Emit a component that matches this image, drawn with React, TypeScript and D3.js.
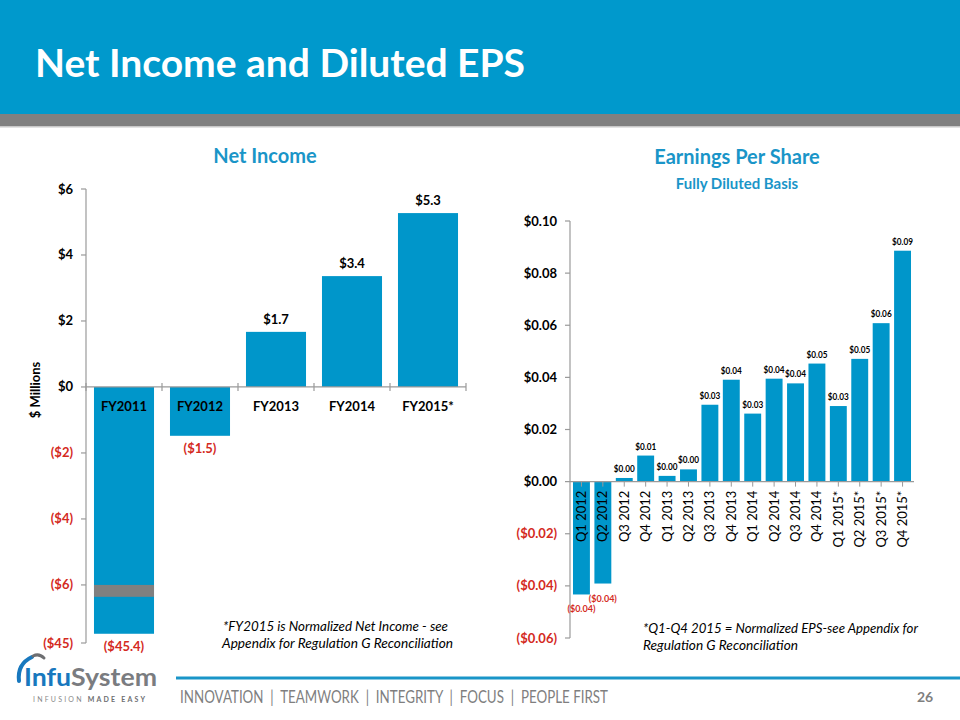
import React from "react";
import * as d3 from "d3";

// ---------- Data ----------
const niCategories = ["FY2011", "FY2012", "FY2013", "FY2014", "FY2015*"];
const niValues = [-45.4, -1.48, 1.67, 3.36, 5.27];
const niLabels = ["($45.4)", "($1.5)", "$1.7", "$3.4", "$5.3"];
const niAxisTicks = [6, 4, 2, 0, -2, -4, -6, -7.76];
const niAxisTickLabels = ["$6", "$4", "$2", "$0", "($2)", "($4)", "($6)", "($45)"];

const epsCategories = [
  "Q1 2012", "Q2 2012", "Q3 2012", "Q4 2012",
  "Q1 2013", "Q2 2013", "Q3 2013", "Q4 2013",
  "Q1 2014", "Q2 2014", "Q3 2014", "Q4 2014",
  "Q1 2015*", "Q2 2015*", "Q3 2015*", "Q4 2015*",
];
const epsValues = [
  -0.0433, -0.0391, 0.0014, 0.01,
  0.0022, 0.0047, 0.0295, 0.0391,
  0.0261, 0.0395, 0.0377, 0.0453,
  0.029, 0.0471, 0.0608, 0.0886,
];
const epsLabels = [
  "($0.04)", "($0.04)", "$0.00", "$0.01",
  "$0.00", "$0.00", "$0.03", "$0.04",
  "$0.03", "$0.04", "$0.04", "$0.05",
  "$0.03", "$0.05", "$0.06", "$0.09",
];
const epsTicks = [0.1, 0.08, 0.06, 0.04, 0.02, 0, -0.02, -0.04, -0.06];

const footerText = "INNOVATION  |  TEAMWORK  |  INTEGRITY  |  FOCUS  |  PEOPLE FIRST";

// ---------- Styles ----------
const BLUE = "#0096CA";
const HEADER_BLUE = "#0099CC";
const TITLE_BLUE = "#1A95C8";
const RED = "#D42A1E";
const AXIS = "#9A9A9A";
const FONT = "Lato, 'Open Sans', sans-serif";

// Axis-break mapping: values below -6 are compressed
const BREAK = -6;
const BREAK_K = 1.48 / 39.4;
const niDisplay = (v: number) => (v >= BREAK ? v : BREAK + (v - BREAK) * BREAK_K);

export default function App() {
  // Left chart scales
  const xL = d3.scaleBand<string>().domain(niCategories).range([86, 466]).paddingInner(0.21).paddingOuter(0.105);
  const yL = d3.scaleLinear().domain([-7.76, 6]).range([643, 189]);
  const y0L = yL(0);

  // Right chart scales
  const xR = d3.scaleBand<string>().domain(epsCategories).range([570, 914]).paddingInner(0.21).paddingOuter(0.14);
  const yR = d3.scaleLinear().domain([-0.06, 0.1]).range([638, 221]);
  const y0R = yR(0);

  const leftBoundaries = niCategories.map((_, i) => 86 + i * xL.step()).concat([466]);

  return (
    <svg width={960} height={720} style={{ position: "absolute", left: 0, top: 0 }} fontFamily={FONT}>
      <rect x={0} y={0} width={960} height={720} fill="#fff" />
      {/* Header */}
      <rect x={0} y={0} width={960} height={114} fill={HEADER_BLUE} />
      <rect x={0} y={114} width={960} height={12} fill="#808080" />
      <rect x={0} y={126} width={960} height={1.5} fill="#C8C8C8" />
      <text x={35} y={77} fill="#fff" fontSize={39} fontWeight="bold" textLength={490} lengthAdjust="spacingAndGlyphs">
        Net Income and Diluted EPS
      </text>

      {/* ---------- Left chart ---------- */}
      <text x={265} y={163} textAnchor="middle" fill={TITLE_BLUE} fontSize={20} fontWeight="bold">Net Income</text>
      <text transform={`translate(40,390) rotate(-90)`} textAnchor="middle" fontSize={13} fontWeight="bold" fill="#000">$ Millions</text>

      {niValues.map((v, i) => {
        const x = xL(niCategories[i])!;
        const yv = yL(niDisplay(v));
        return (
          <rect key={i} x={x} y={Math.min(yv, y0L)} width={xL.bandwidth()} height={Math.abs(yv - y0L)} fill={BLUE} />
        );
      })}
      {/* break marker */}
      <rect x={xL(niCategories[0])!} y={yL(BREAK)} width={xL.bandwidth()} height={yL(-6.36) - yL(BREAK)} fill="#808080" />

      <line x1={86} x2={86} y1={yL(6)} y2={yL(-7.76)} stroke={AXIS} strokeWidth={1.2} />
      {niAxisTicks.map((t, i) => (
        <g key={i}>
          <line x1={81} x2={86} y1={yL(t)} y2={yL(t)} stroke={AXIS} strokeWidth={1.2} />
          <text x={73} y={yL(t) + 4.5} textAnchor="end" fontSize={13} fontWeight="bold" fill={t < 0 ? RED : "#000"}>
            {niAxisTickLabels[i]}
          </text>
        </g>
      ))}
      <line x1={86} x2={466} y1={y0L} y2={y0L} stroke={AXIS} strokeWidth={1.2} />
      {leftBoundaries.map((bx, i) => (
        <line key={i} x1={bx} x2={bx} y1={y0L - 4} y2={y0L + 4} stroke={AXIS} strokeWidth={1.2} />
      ))}
      {niCategories.map((c) => (
        <text key={c} x={xL(c)! + xL.bandwidth() / 2} y={y0L + 24} textAnchor="middle" fontSize={13} fontWeight="bold" fill="#000">
          {c}
        </text>
      ))}
      {niValues.map((v, i) => {
        const cx = xL(niCategories[i])! + xL.bandwidth() / 2;
        const yv = yL(niDisplay(v));
        return (
          <text key={i} x={cx} y={v >= 0 ? yv - 8 : yv + 17} textAnchor="middle" fontSize={13} fontWeight="bold" fill={v < 0 ? RED : "#000"}>
            {niLabels[i]}
          </text>
        );
      })}
      <text x={223} y={631} fontSize={13} fontStyle="italic" fill="#000" textLength={225} lengthAdjust="spacingAndGlyphs">*FY2015 is Normalized Net Income - see</text>
      <text x={222} y={648} fontSize={13} fontStyle="italic" fill="#000" textLength={231} lengthAdjust="spacingAndGlyphs">Appendix for Regulation G Reconciliation</text>

      {/* ---------- Right chart ---------- */}
      <text x={737} y={164} textAnchor="middle" fill={TITLE_BLUE} fontSize={20} fontWeight="bold">Earnings Per Share</text>
      <text x={737} y={189} textAnchor="middle" fill={TITLE_BLUE} fontSize={15} fontWeight="bold">Fully Diluted Basis</text>

      {epsValues.map((v, i) => {
        const x = xR(epsCategories[i])!;
        const yv = yR(v);
        return <rect key={i} x={x} y={Math.min(yv, y0R)} width={xR.bandwidth()} height={Math.abs(yv - y0R)} fill={BLUE} />;
      })}

      <line x1={570} x2={570} y1={yR(0.1)} y2={yR(-0.06)} stroke={AXIS} strokeWidth={1.2} />
      {epsTicks.map((t, i) => (
        <g key={i}>
          <line x1={565} x2={570} y1={yR(t)} y2={yR(t)} stroke={AXIS} strokeWidth={1.2} />
          <text x={557} y={yR(t) + 4.5} textAnchor="end" fontSize={13} fontWeight="bold" fill={t < -1e-9 ? RED : "#000"}>
            {t < -1e-9 ? `($${Math.abs(t).toFixed(2)})` : `$${t.toFixed(2)}`}
          </text>
        </g>
      ))}
      <line x1={570} x2={914} y1={y0R} y2={y0R} stroke={AXIS} strokeWidth={1.2} />
      {epsCategories.map((c) => (
        <line key={c} x1={xR(c)! + xR.bandwidth() / 2} x2={xR(c)! + xR.bandwidth() / 2} y1={y0R} y2={y0R + 5} stroke={AXIS} strokeWidth={1} />
      ))}
      {epsCategories.map((c) => (
        <text
          key={c}
          transform={`translate(${xR(c)! + xR.bandwidth() / 2 + 4.5},${y0R + 9}) rotate(-90)`}
          textAnchor="end"
          fontSize={13}
          fill="#000"
        >
          {c}
        </text>
      ))}
      {epsValues.map((v, i) => {
        const cx = xR(epsCategories[i])! + xR.bandwidth() / 2;
        const yv = yR(v);
        const lbl = epsLabels[i];
        return (
          <text
            key={i}
            x={cx}
            y={v >= 0 ? yv - 6 : yv + 18}
            textAnchor="middle"
            fontSize={10}
            fontWeight="bold"
            fill={v < 0 ? RED : "#000"}
            textLength={lbl.length > 5 ? 28 : 21}
            lengthAdjust="spacingAndGlyphs"
          >
            {lbl}
          </text>
        );
      })}
      <text x={643} y={633} fontSize={13} fontStyle="italic" fill="#000" textLength={275} lengthAdjust="spacingAndGlyphs">*Q1-Q4 2015 = Normalized EPS-see Appendix for</text>
      <text x={643} y={650} fontSize={13} fontStyle="italic" fill="#000" textLength={155} lengthAdjust="spacingAndGlyphs">Regulation G Reconciliation</text>

      {/* ---------- Footer ---------- */}
      <line x1={176} x2={960} y1={678} y2={678} stroke="#1A95C8" strokeWidth={3} />
      <text x={180} y={703} fontSize={17} fill="#7F7F7F" textLength={428} lengthAdjust="spacingAndGlyphs" xmlSpace="preserve">
        {footerText}
      </text>
      <text x={925} y={702} textAnchor="middle" fontSize={14} fontWeight="bold" fill="#7F7F7F">26</text>

      {/* Logo */}
      <path d="M19,681 Q17,664 32,657" fill="none" stroke="#1878BE" strokeWidth={4} strokeLinecap="round" />
      <path d="M33,656 Q39,653 44,658" fill="none" stroke="#6D6E71" strokeWidth={3} strokeLinecap="round" />
      <text x={24} y={686} fontSize={25} fontWeight="bold" textLength={133} lengthAdjust="spacingAndGlyphs">
        <tspan fill="#1878BE">Infu</tspan>
        <tspan fill="#7A7C80">System</tspan>
      </text>
      <text x={33} y={702} fontSize={7} fill="#8A8A8A" letterSpacing={2.2}>
        INFUSION <tspan fontWeight="bold" fill="#6D6E71">MADE EASY</tspan>
      </text>
    </svg>
  );
}
